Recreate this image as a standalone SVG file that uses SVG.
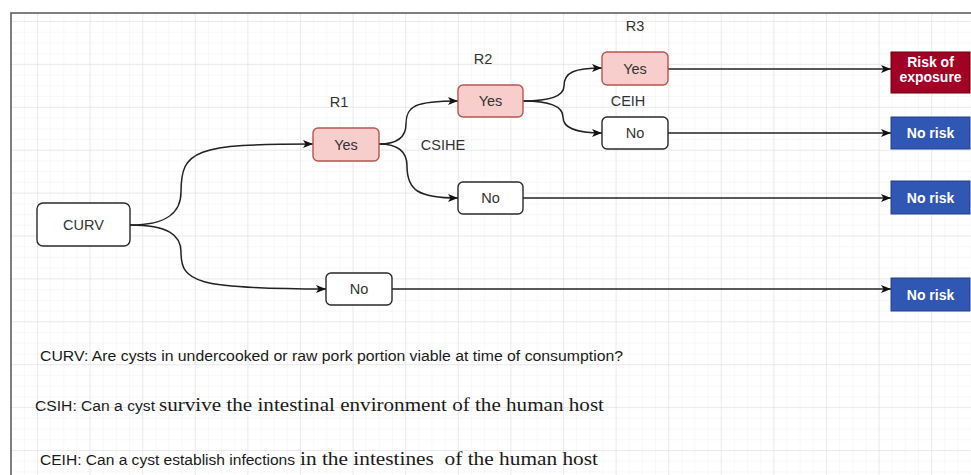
<svg xmlns="http://www.w3.org/2000/svg" width="971" height="475" viewBox="0 0 971 475">
<style>
.box{fill:#fff;stroke:#2a2a2a;stroke-width:1.4}
.yes{fill:#f8cecc;stroke:#b85450;stroke-width:1.4}
.risk{fill:#a20025;stroke:#6f0000;stroke-width:1}
.norisk{fill:#3057b4;stroke:#23408a;stroke-width:1}
.t{font-family:"Liberation Sans",Arial,sans-serif;font-size:14.5px;fill:#333;text-anchor:middle;dominant-baseline:central}
.w{font-family:"Liberation Sans",Arial,sans-serif;font-size:14px;font-weight:bold;fill:#fff;text-anchor:middle;dominant-baseline:central}
.edge{fill:none;stroke:#222;stroke-width:1.5}
.q{font-family:"Liberation Sans",Arial,sans-serif;font-size:14px;fill:#1a1a1a}
.qs{font-family:"Liberation Serif","Times New Roman",serif;font-size:18px;fill:#1a1a1a}
</style>
<defs>
<pattern id="minor" x="37" y="21" width="13.15" height="10.725" patternUnits="userSpaceOnUse">
<path d="M0,0 V10.725 M0,0 H13.15" fill="none" stroke="#f1f1f1" stroke-width="1"/>
</pattern>
<pattern id="major" x="37" y="21" width="52.6" height="42.9" patternUnits="userSpaceOnUse">
<path d="M0,0 V42.9 M0,0 H52.6" fill="none" stroke="#dedede" stroke-width="1"/>
</pattern>
<marker id="arr" markerWidth="10" markerHeight="10" refX="10" refY="5" orient="auto" markerUnits="userSpaceOnUse">
<path d="M0,1 L10,5 L0,9 L2.5,5 Z" fill="#111"/>
</marker>
</defs>
<rect width="971" height="475" fill="#fff"/>
<rect x="11" y="13" width="960" height="462" fill="url(#minor)"/>
<rect x="11" y="13" width="960" height="462" fill="url(#major)"/>
<path d="M11,475 V13 H971" fill="none" stroke="#555" stroke-width="1.5"/>

<g id="connectors">
<path class="edge" d="M130,225 C168,225 181,212 181,192 C181,150 195,144 313,144" marker-end="url(#arr)"/>
<path class="edge" d="M130,225 C168,225 181,235 181,252 C181,282 195,289 326,289" marker-end="url(#arr)"/>
<path class="edge" d="M379,144 C398,144 406,136 406,124 C406,106 415,101 458,101" marker-end="url(#arr)"/>
<path class="edge" d="M379,144 C398,144 407,152 407,166 C407,190 418,198 458,198" marker-end="url(#arr)"/>
<path class="edge" d="M523,101 C550,101 564,96 564,86 C564,72 575,68 602,68" marker-end="url(#arr)"/>
<path class="edge" d="M523,101 C550,101 563,107 563,117 C563,128 575,133 602,133" marker-end="url(#arr)"/>
<path class="edge" d="M668,69 H891" marker-end="url(#arr)"/>
<path class="edge" d="M668,133 H891" marker-end="url(#arr)"/>
<path class="edge" d="M523,198 H891" marker-end="url(#arr)"/>
<path class="edge" d="M392,289 H891" marker-end="url(#arr)"/>
</g>

<g id="curv"><rect class="box" x="37" y="203" width="93" height="43" rx="6"/><text class="t" x="83.5" y="225" font-size="15">CURV</text></g>
<g id="yes1"><rect class="yes" x="313" y="128" width="66" height="33" rx="5"/><text class="t" x="346" y="144.5">Yes</text></g>
<g id="no1"><rect class="box" x="326" y="273" width="66" height="32" rx="5"/><text class="t" x="359" y="289">No</text></g>
<g id="yes2"><rect class="yes" x="458" y="85" width="65" height="32" rx="5"/><text class="t" x="490.5" y="101">Yes</text></g>
<g id="no2"><rect class="box" x="458" y="182" width="65" height="32" rx="5"/><text class="t" x="490.5" y="198">No</text></g>
<g id="yes3"><rect class="yes" x="602" y="52" width="66" height="33" rx="5"/><text class="t" x="635" y="68.5">Yes</text></g>
<g id="no3"><rect class="box" x="602" y="117" width="66" height="32" rx="5"/><text class="t" x="635" y="133">No</text></g>

<g id="risk"><rect class="risk" x="891" y="52" width="79" height="41"/><text class="w" x="930.5" y="62">Risk of</text><text class="w" x="930.5" y="77">exposure</text></g>
<g id="norisk1"><rect class="norisk" x="891" y="117" width="79" height="32"/><text class="w" x="930.5" y="133">No risk</text></g>
<g id="norisk2"><rect class="norisk" x="891" y="181" width="79" height="33"/><text class="w" x="930.5" y="197.5">No risk</text></g>
<g id="norisk3"><rect class="norisk" x="891" y="278" width="79" height="33"/><text class="w" x="930.5" y="294.5">No risk</text></g>

<g id="labels">
<text class="t" x="339" y="102" font-size="14">R1</text>
<text class="t" x="483" y="59" font-size="14">R2</text>
<text class="t" x="635" y="26" font-size="14">R3</text>
<text class="t" x="443" y="145">CSIHE</text>
<text class="t" x="628" y="101">CEIH</text>
</g>

<g id="legend">
<text class="q" x="40" y="361" textLength="583" lengthAdjust="spacingAndGlyphs">CURV: Are cysts in undercooked or raw pork portion viable at time of consumption?</text>
<text class="q" x="35" y="411" textLength="120" lengthAdjust="spacingAndGlyphs">CSIH: Can a cyst</text>
<text class="qs" x="159" y="411" textLength="445" lengthAdjust="spacingAndGlyphs">survive the intestinal environment of the human host</text>
<text class="q" x="40" y="465" textLength="255" lengthAdjust="spacingAndGlyphs">CEIH: Can a cyst establish infections</text>
<text class="qs" x="300" y="465" textLength="298" lengthAdjust="spacingAndGlyphs" xml:space="preserve">in the intestines  of the human host</text>
</g>
</svg>
